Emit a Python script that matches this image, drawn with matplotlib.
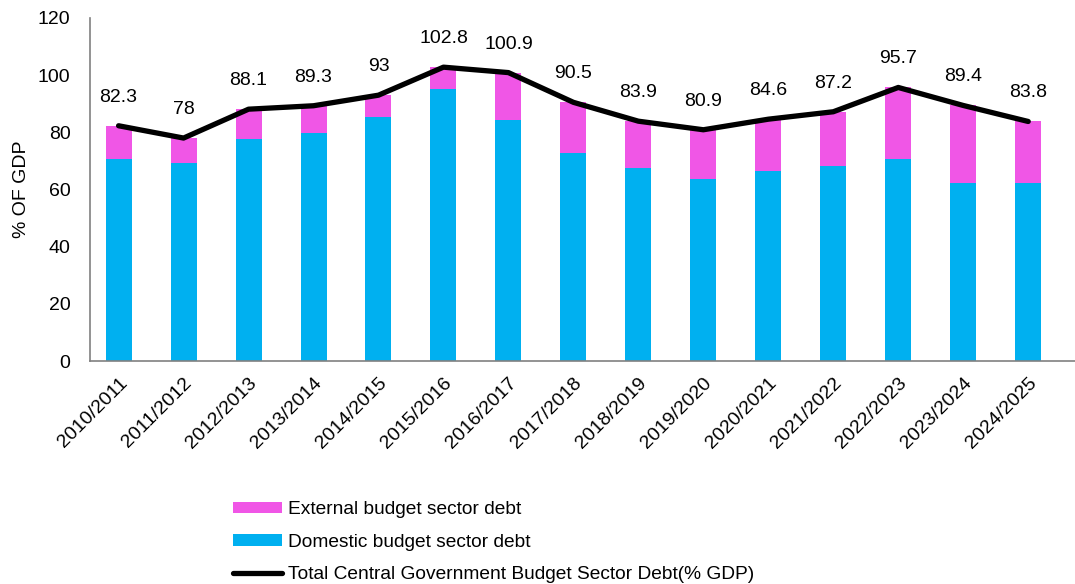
import matplotlib
matplotlib.use('Agg')
import matplotlib.pyplot as plt
import numpy as np

# fiscal years and debt values (% of GDP)
years = ['2010/2011', '2011/2012', '2012/2013', '2013/2014', '2014/2015',
         '2015/2016', '2016/2017', '2017/2018', '2018/2019', '2019/2020',
         '2020/2021', '2021/2022', '2022/2023', '2023/2024', '2024/2025']
total = [82.3, 78, 88.1, 89.3, 93, 102.8, 100.9, 90.5, 83.9, 80.9,
         84.6, 87.2, 95.7, 89.4, 83.8]
domestic = [70.6, 69.1, 77.8, 79.9, 85.5, 95.3, 84.3, 72.9, 67.4, 63.5,
            66.5, 68.2, 70.7, 62.4, 62.3]
external = [round(t - d, 1) for t, d in zip(total, domestic)]

plt.rcParams['font.family'] = ['Liberation Sans', 'DejaVu Sans']

fig = plt.figure(figsize=(10.75, 5.84), dpi=100)
ax = fig.add_axes([90 / 1075, 1 - 361 / 584, 1 - 90 / 1075, 343 / 584])

x = np.arange(len(years))
bar_dom = ax.bar(x, domestic, width=0.4, color='#00B0F0')
bar_ext = ax.bar(x, external, width=0.4, bottom=domestic, color='#F056E6')
line_tot, = ax.plot(x, total, color='black', linewidth=3.8, solid_capstyle='round')

for xi, t in zip(x, total):
    ax.text(xi, t + 7, f'{t:g}', ha='center', va='bottom', fontsize=14)

ax.set_ylim(0, 120)
ax.set_yticks(range(0, 121, 20))
ax.set_xlim(-0.44, 14.72)
ax.set_xticks(x)
ax.set_xticklabels(years, rotation=45, ha='right', rotation_mode='anchor')
ax.tick_params(axis='both', labelsize=14, length=0)
ax.tick_params(axis='x', pad=10)
ax.tick_params(axis='y', pad=14)
ax.set_ylabel('% OF GDP', fontsize=14, labelpad=6)

for s in ['top', 'right']:
    ax.spines[s].set_visible(False)
for s in ['left', 'bottom']:
    ax.spines[s].set_color('#808080')
    ax.spines[s].set_linewidth(1.2)

fig.legend([bar_ext, bar_dom, line_tot],
           ['External budget sector debt', 'Domestic budget sector debt',
            'Total Central Government Budget Sector Debt(% GDP)'],
           loc='upper left', bbox_to_anchor=(216 / 1075, 1 - 484 / 584),
           frameon=False, fontsize=13.8, handlelength=2.55, handleheight=0.55,
           labelspacing=0.8, handletextpad=0.3)

fig.savefig('out.png', dpi=100)
